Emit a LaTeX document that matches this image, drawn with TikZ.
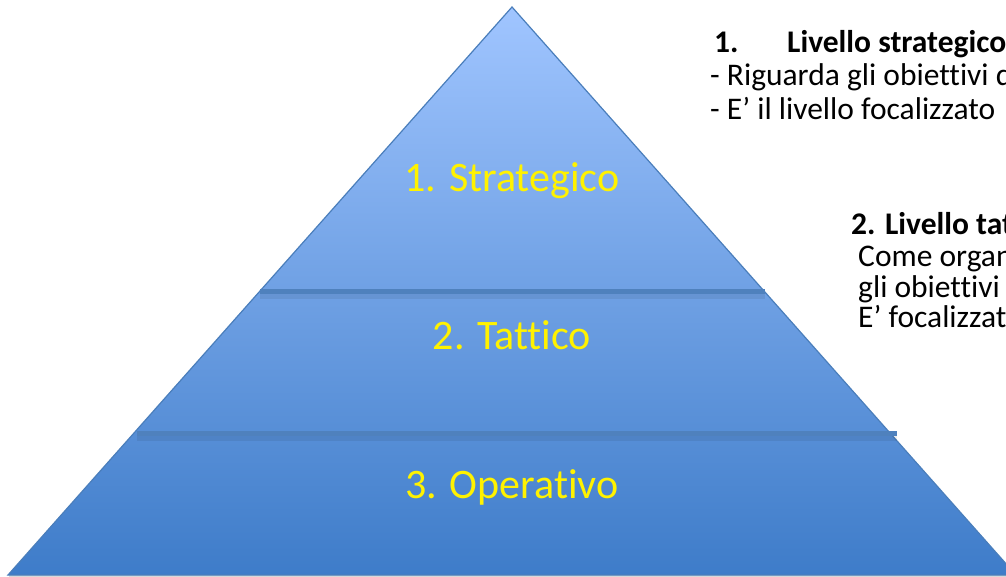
\documentclass[tikz,border=0pt]{standalone}
\usepackage{fontspec}
\setmainfont[Ligatures={NoCommon,NoRequired,NoContextual}]{Carlito}
\definecolor{pyrtop}{RGB}{160,197,255}
\definecolor{pyrbot}{RGB}{62,124,201}
\definecolor{pyredge}{RGB}{74,126,187}
\definecolor{sepcol}{RGB}{79,129,189}
\begin{document}
\begin{tikzpicture}[x=1pt,y=-1pt,
  level/.style={text=yellow, font=\fontsize{42}{50}\selectfont, inner sep=0pt, anchor=base},
  sidetext/.style={text=black, font=\fontsize{31.5}{34}\selectfont, inner sep=0pt, anchor=base west},
  sidebold/.style={sidetext, font=\fontsize{31.5}{34}\selectfont\bfseries},
  sepline/.style={draw=sepcol, line width=5pt},
  sepshadow/.style={draw=black, opacity=0.07, line width=7pt}]
\useasboundingbox (0,0) rectangle (1006,577);
\clip (0,0) rectangle (1006,577);
\coordinate (apex) at (512,7);
\coordinate (bl) at (8,575);
\coordinate (br) at (1016,575);
% shadow of base
\fill[black, opacity=0.15] (9,575) rectangle (1016,577.5);
\shade[top color=pyrtop, bottom color=pyrbot, draw=pyredge, line width=1.2pt]
  (apex) -- (bl) -- (br) -- cycle;
% separators
\coordinate (s1l) at (260,291);
\coordinate (s1r) at (765,291);
\coordinate (s2l) at (137,433);
\coordinate (s2r) at (897,433);
\draw[sepshadow] ([yshift=-4pt]s1l) -- ([yshift=-4pt]s1r);
\draw[sepshadow] ([yshift=-4pt]s2l) -- ([yshift=-4pt]s2r);
\draw[sepline] (s1l) -- (s1r);
\draw[sepline] (s2l) -- (s2r);
% level labels
\node[level] (t1) at (512,192) {1. Strategico};
\node[level] (t2) at (512,349) {2. Tattico};
\node[level] (t3) at (512,498) {3. Operativo};
% right texts, block 1
\node[sidebold] (a0) at (714,53) {1.};
\node[sidebold] (a1) at (787,53) {Livello strategico};
\node[sidetext] (a2) at (710,86) {- Riguarda gli obiettivi di};
\node[sidetext] (a3) at (710,120) {- E’ il livello focalizzato};
% block 2
\node[sidebold] (b1) at (851,235) {2. Livello tattico};
\node[sidetext] (b2) at (858,266) {Come organizzare};
\node[sidetext] (b3) at (858,297) {gli obiettivi};
\node[sidetext] (b4) at (858,327) {E’ focalizzato};
\end{tikzpicture}
\end{document}
